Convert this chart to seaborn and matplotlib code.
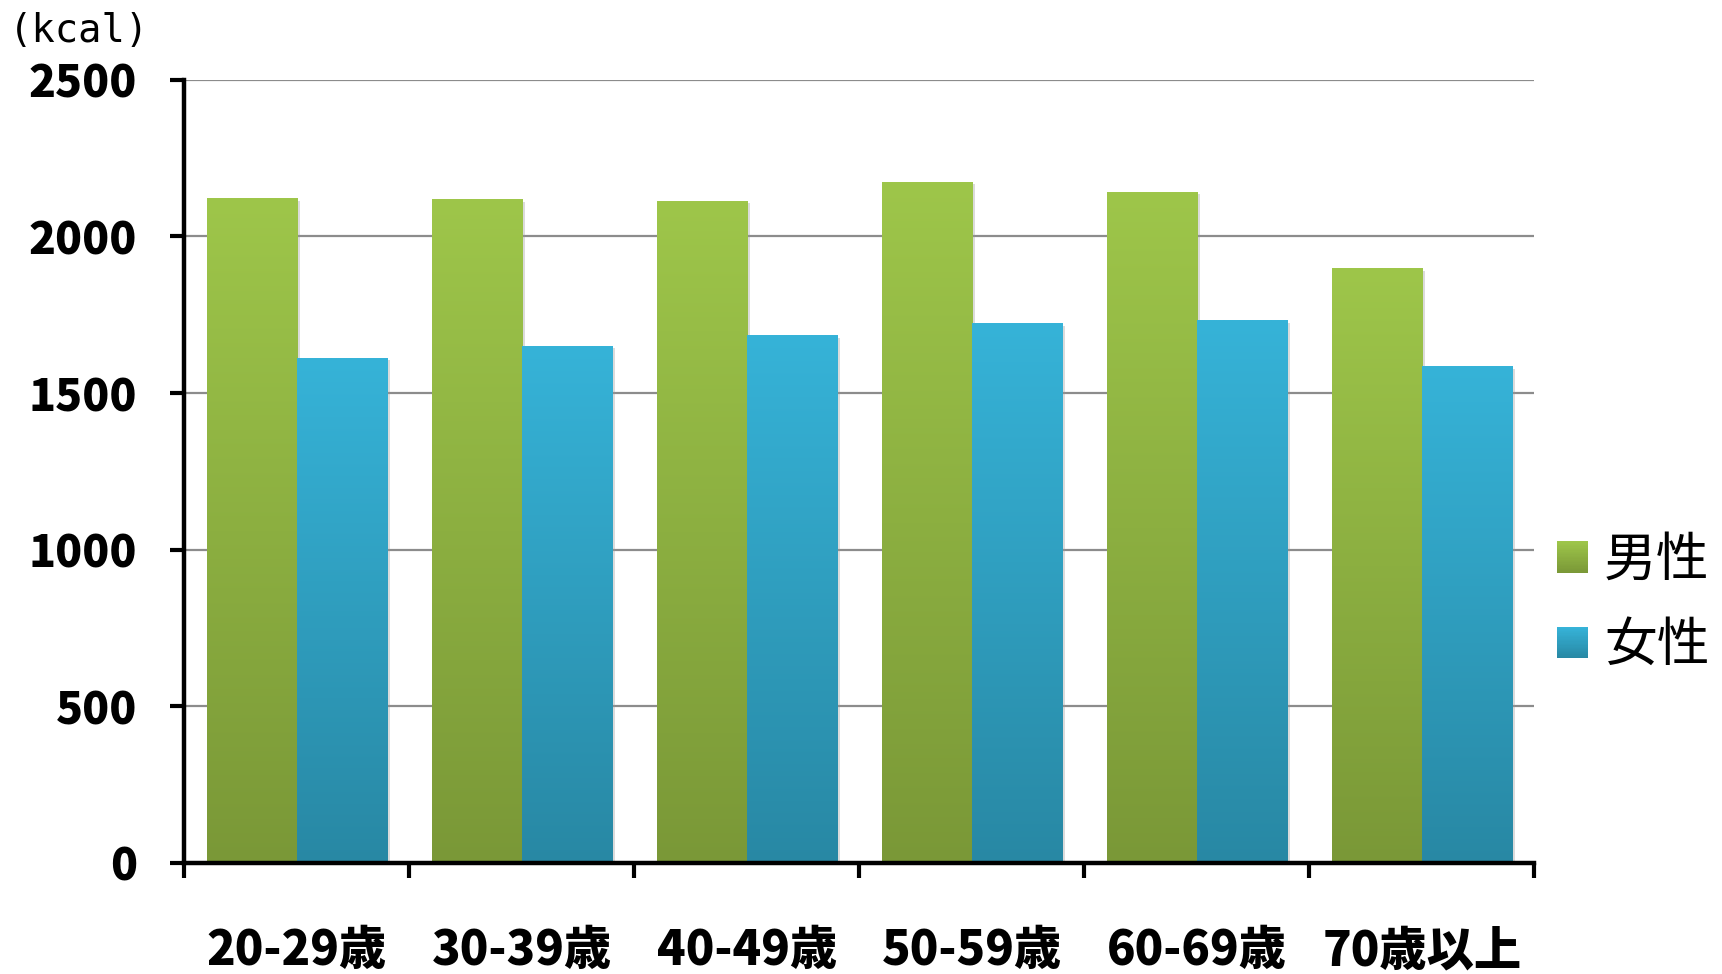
import numpy as np
import pandas as pd
import matplotlib
matplotlib.use("Agg")
import matplotlib.pyplot as plt
import seaborn as sns
from matplotlib.patches import Rectangle
from matplotlib.legend_handler import HandlerBase
from matplotlib.colors import LinearSegmentedColormap, to_rgb
import matplotlib.patheffects as pe

# Energy intake by age group and sex
age_groups = ["20-29歳", "30-39歳", "40-49歳", "50-59歳", "60-69歳", "70歳以上"]
sexes = ["男性", "女性"]
male_kcal = [2120, 2117, 2113, 2174, 2142, 1897]
female_kcal = [1611, 1650, 1684, 1722, 1732, 1585]
y_ticks = [0, 500, 1000, 1500, 2000, 2500]
unit_label = "(kcal)"

green_top, green_bottom = "#9ec64a", "#7a9837"
blue_top, blue_bottom = "#36b3d8", "#2888a4"
shades = {sexes[0]: (green_top, green_bottom), sexes[1]: (blue_top, blue_bottom)}

df = pd.DataFrame({
    "age": age_groups * 2,
    "sex": [sexes[0]] * len(age_groups) + [sexes[1]] * len(age_groups),
    "kcal": male_kcal + female_kcal,
})

sns.set_theme(style="white")
plt.rcParams["font.family"] = ["Noto Sans CJK JP", "DejaVu Sans"]
plt.rcParams["text.color"] = "black"
plt.rcParams["xtick.color"] = "black"
plt.rcParams["ytick.color"] = "black"
plt.rcParams["axes.labelcolor"] = "black"

fig = plt.figure(figsize=(17.22, 9.74), dpi=100)
ax = fig.add_axes([0.107, 0.114, 0.784, 0.804])

sns.barplot(data=df, x="age", y="kcal", hue="sex", hue_order=sexes,
            palette=[green_bottom, blue_bottom], saturation=1, width=0.8,
            ax=ax, legend=False, zorder=2)

# vertical gradient fill on each bar, with a soft drop shadow
grad = np.linspace(0, 1, 256).reshape(-1, 1)
bottom_rgb = [to_rgb(green_bottom), to_rgb(blue_bottom)]
for patch in list(ax.patches):
    h = patch.get_height()
    if not np.isfinite(h) or h <= 0:
        continue
    fc = to_rgb(patch.get_facecolor())
    key = sexes[0] if np.allclose(fc, bottom_rgb[0], atol=0.02) else sexes[1]
    top, bot = shades[key]
    cmap = LinearSegmentedColormap.from_list(key, [bot, top])
    patch.set_edgecolor("none")
    patch.set_path_effects([
        pe.SimplePatchShadow(offset=(2.5, -1.5), shadow_rgbFace="#9a9a9a", alpha=0.35),
        pe.Normal(),
    ])
    x0 = patch.get_x()
    ax.imshow(grad, extent=[x0, x0 + patch.get_width(), 0, h], origin="lower",
              cmap=cmap, aspect="auto", zorder=2.5, interpolation="bilinear")

ax.set_xlim(-0.5, len(age_groups) - 0.5)
ax.set_ylim(0, 2500)

# y axis
ax.set_yticks(y_ticks)
ax.set_yticklabels([str(v) for v in y_ticks], fontsize=32, fontweight="black")
ax.tick_params(axis="y", direction="out", length=10, width=3, color="black",
               labelcolor="black", pad=24, left=True)
ax.yaxis.grid(True, color="#8c8c8c", linewidth=1.6)
ax.xaxis.grid(False)
ax.set_axisbelow(True)

# x axis: labels at group centres, tick marks on group boundaries
ax.set_xticks(range(len(age_groups)))
ax.set_xticklabels(age_groups, fontsize=34, fontweight="black")
ax.tick_params(axis="x", which="major", length=0, pad=46, labelcolor="black")
ax.set_xticks(np.arange(-0.5, len(age_groups), 1.0), minor=True)
ax.tick_params(axis="x", which="minor", direction="out", length=11, width=3,
               color="black", bottom=True)

ax.set_xlabel("")
ax.set_ylabel("")
for side in ("top", "right"):
    ax.spines[side].set_visible(False)
for side in ("left", "bottom"):
    ax.spines[side].set_color("black")
    ax.spines[side].set_linewidth(3.2)

fig.text(0.005, 0.988, unit_label, ha="left", va="top", fontsize=28,
         color="black", family=["DejaVu Sans Mono"])


class GradientSquare(HandlerBase):
    def __init__(self, top, bottom, steps=24):
        super().__init__()
        self.top, self.bottom, self.steps = top, bottom, steps

    def create_artists(self, legend, orig_handle, xdescent, ydescent,
                       width, height, fontsize, trans):
        cmap = LinearSegmentedColormap.from_list("g", [self.bottom, self.top])
        side = min(width, height)
        x0 = -xdescent + (width - side) / 2
        y0 = -ydescent + (height - side) / 2
        step = side / self.steps
        artists = []
        for i in range(self.steps):
            artists.append(Rectangle((x0, y0 + i * step), side, step * 1.05,
                                     facecolor=cmap(i / (self.steps - 1)),
                                     edgecolor="none", transform=trans))
        return artists


handles = [Rectangle((0, 0), 1, 1, label=s) for s in sexes]
handler_map = {handles[i]: GradientSquare(*shades[s]) for i, s in enumerate(sexes)}
leg = fig.legend(handles=handles, labels=sexes, handler_map=handler_map,
                 loc="center left", bbox_to_anchor=(0.904, 0.381), frameon=False,
                 fontsize=38, handlelength=0.6, handleheight=0.6, handletextpad=0.3,
                 labelspacing=0.58, borderpad=0, borderaxespad=0)
for t in leg.get_texts():
    t.set_color("black")

fig.savefig("out.png", dpi=100)
